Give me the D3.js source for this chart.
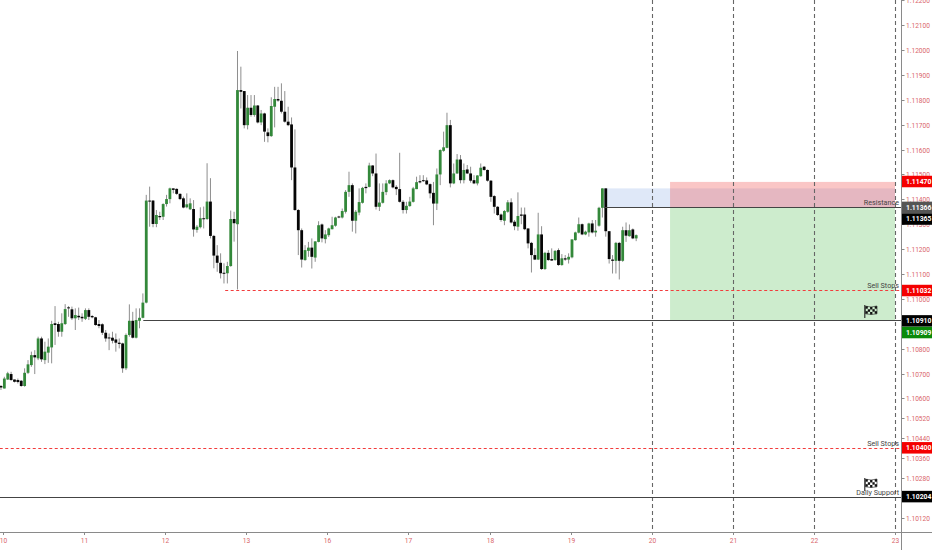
<!DOCTYPE html>
<html><head><meta charset="utf-8">
<script src="https://cdn.jsdelivr.net/npm/d3@7"></script>
<style>html,body{margin:0;padding:0;background:#fff;overflow:hidden}svg{display:block}text{font-family:Roboto,sans-serif}</style>
</head><body><svg id="c" width="932" height="550"></svg>
<script>
// Prices are in points (1e-5). One entry per hourly candle.
const bodyTops=[110650,110680,110701,110698,110676,110674,110671,110703,110737,110774,
110774,110841,110841,110788,110808,110899,110902,110899,110902,110959,
110966,110958,110935,110932,110928,110955,110955,110931,110926,110899,
110898,110864,110845,110844,110837,110824,110821,110855,110912,110912,
110915,110924,110985,111395,111395,111395,111337,111333,111381,111401,
111444,111444,111442,111422,111404,111380,111384,111361,111290,111324,
111324,111391,111391,111253,111174,111145,111105,111132,111321,111321,
111839,111839,111835,111768,111768,111777,111777,111745,111745,111669,
111775,111803,111803,111796,111752,111712,111701,111528,111357,111276,
111196,111206,111206,111231,111296,111299,111259,111283,111296,111327,
111331,111353,111430,111457,111457,111350,111389,111446,111450,111536,
111536,111504,111387,111430,111464,111477,111477,111450,111441,111390,
111374,111391,111444,111469,111473,111477,111476,111461,111426,111500,
111598,111609,111698,111698,111504,111560,111560,111518,111520,111504,
111477,111496,111527,111531,111518,111475,111413,111370,111339,111353,
111388,111388,111310,111333,111339,111339,111283,111225,111176,111259,
111259,111185,111185,111160,111193,111196,111163,111163,111169,111239,
111267,111300,111300,111270,111303,111303,111274,111366,111444,111444,
111272,111158,111225,111225,111276,111276,111276,111279,111256];
const bodyBottoms=[110644,110640,110676,110674,110667,110666,110650,110650,110703,110734,
110765,110761,110757,110754,110784,110805,110895,110868,110868,110899,
110962,110922,110922,110926,110922,110920,110928,110926,110895,110891,
110864,110841,110841,110832,110824,110819,110721,110721,110855,110844,
110844,110912,110924,110985,111391,111301,111301,111328,111330,111381,
111401,111438,111422,111401,111367,111368,111360,111279,111277,111288,
111321,111321,111253,111174,111145,111103,111101,111103,111132,111304,
111300,111832,111698,111698,111739,111739,111709,111709,111672,111654,
111654,111772,111797,111752,111712,111698,111528,111357,111276,111158,
111156,111193,111169,111166,111229,111243,111240,111256,111280,111294,
111327,111327,111350,111430,111314,111314,111347,111386,111445,111450,
111504,111370,111370,111386,111429,111464,111448,111441,111390,111357,
111357,111373,111390,111441,111468,111473,111460,111424,111383,111383,
111500,111595,111607,111464,111464,111504,111477,111477,111504,111475,
111464,111464,111493,111518,111475,111410,111370,111337,111317,111314,
111350,111307,111292,111290,111334,111280,111223,111176,111158,111158,
111120,111120,111156,111154,111156,111136,111136,111158,111158,111167,
111236,111266,111259,111259,111267,111267,111267,111294,111366,111272,
111160,111153,111153,111153,111153,111254,111252,111243,111243];
const highs=[110654,110687,110707,110707,110676,110680,110674,110721,110754,110788,
110794,110848,110848,110828,110841,110912,110971,110908,110942,110979,
110971,110969,110962,110965,110942,110962,110962,110935,110928,110915,
110902,110875,110861,110868,110861,110841,110824,110861,110978,110948,
110962,110962,111022,111418,111451,111397,111357,111350,111384,111418,
111447,111444,111444,111424,111411,111424,111404,111397,111297,111368,
111371,111545,111485,111257,111216,111183,111143,111149,111355,111350,
111996,111933,111835,111819,111819,111819,111779,111759,111748,111685,
111810,111852,111852,111866,111835,111772,111729,111681,111361,111283,
111216,111229,111243,111232,111312,111303,111276,111286,111330,111330,
111334,111363,111437,111511,111464,111357,111444,111450,111464,111547,
111537,111584,111464,111464,111477,111480,111480,111457,111587,111397,
111390,111410,111450,111491,111497,111497,111488,111464,111470,111524,
111601,111672,111748,111719,111544,111582,111578,111544,111538,111531,
111497,111497,111544,111534,111520,111477,111417,111373,111343,111357,
111397,111404,111317,111428,111367,111367,111283,111229,111203,111346,
111292,111189,111196,111203,111196,111203,111180,111176,111183,111239,
111270,111327,111303,111274,111306,111317,111317,111370,111444,111444,
111272,111176,111229,111229,111290,111307,111299,111283,111259];
const lows=[110634,110640,110674,110671,110664,110660,110647,110647,110698,110727,
110698,110754,110747,110738,110743,110741,110815,110848,110848,110895,
110928,110915,110875,110915,110908,110915,110915,110922,110892,110882,
110855,110828,110794,110821,110788,110801,110703,110714,110848,110841,
110841,110882,110922,110982,111290,111288,111288,111317,111317,111371,
111384,111424,111418,111397,111364,111364,111357,111250,111266,111283,
111283,111317,111243,111123,111109,111082,111062,111062,111129,111230,
111038,111765,111685,111681,111732,111732,111705,111698,111631,111629,
111651,111689,111792,111745,111708,111694,111477,111354,111176,111126,
111153,111169,111122,111149,111227,111227,111223,111249,111279,111290,
111324,111323,111343,111410,111270,111263,111336,111383,111424,111448,
111493,111359,111353,111383,111417,111461,111444,111417,111387,111343,
111343,111370,111387,111441,111464,111470,111457,111404,111296,111357,
111457,111591,111605,111448,111461,111502,111464,111464,111502,111467,
111461,111456,111491,111515,111471,111390,111343,111333,111310,111296,
111346,111303,111276,111274,111300,111276,111203,111106,111156,111156,
111116,111116,111153,111153,111153,111133,111133,111153,111142,111163,
111234,111263,111256,111256,111250,111263,111250,111290,111327,111250,
111142,111102,111102,111078,111149,111229,111250,111240,111232];
const directions="bggbbbbggg"+"bgbgggbbgg"+"bbgbbgbbbb"+"bbbbbbbggb"+"ggggbbgbgg"+"gbbbbggbgg"+"bgbbbbbggb"+
"gbbgbgbgbb"+"ggbbbbbbbb"+"ggbggbgggg"+"bgggbgggbg"+"bbggggbbbb"+"ggggbbbbbg"+"gggbggbgbb"+"bggbbbbbbg"+
"gbbgbbbbbg"+"bgbbgbgbgg"+"ggbggbgggb"+"bbgbgbgbg";

const dayLabels=["10","11","12","13","16","17","18","19","20","21","22","23"];
const dashedDays=["20","21","22","23"];
const priceTicks=[112200,112100,112000,111900,111800,111700,111600,111500,111400,111300,111200,111100,111000,110800,110700,110600,110520,110440,110360,110280,110120];
const priceTags=[[111470,"#f40000"],[111366,"#555555"],[111365,"#000000"],[111032,"#f40000"],[110910,"#000000"],[110909,"#0a8a0a"],[110400,"#f40000"],[110204,"#000000"]];
const levels=[[111366,7.41,false],[111032,2.74,true],[110914,1.73,false],[110398,-0.04,true],[110204,-0.04,false]];
const levelNotes=[[111366,"Resistance"],[111032,"Sell Stops"],[110400,"Sell Stops"],[110204,"Daily Support"]];
const flagPrices=[110923,110227];
const zones=[[111444,111366,7.41,"#dfe8f8"],[111366,110914,8.226,"#cdeccd"],[111470,111366,8.226,"rgba(242,92,92,0.35)"]];
const zoneEndDay=11;

const svg=d3.select("#c");
const axisX=901.5;
const y=d3.scaleLinear().domain([112000,110204]).range([50,497]);
const xDay=d3.scaleLinear().domain([0,11]).range([3,895]);
const xPoint=d3.scalePoint().domain(dayLabels).range([3,895]);
const xBar=i=>xDay(i/24-0.025);
const fmt=p=>(p/100000).toFixed(5);
const crisp=v=>Math.floor(v)+.5;

svg.append("g").selectAll("rect").data(zones).join("rect")
 .attr("x",d=>xDay(d[2])).attr("width",d=>xDay(zoneEndDay)-xDay(d[2]))
 .attr("y",d=>y(d[0])).attr("height",d=>y(d[1])-y(d[0]))
 .attr("fill",d=>d[3]);

svg.append("g").selectAll("line").data(dashedDays).join("line")
 .attr("x1",d=>Math.round(xPoint(d))+.5).attr("x2",d=>Math.round(xPoint(d))+.5)
 .attr("y1",0).attr("y2",532).attr("stroke","#666").attr("stroke-width",1.1).attr("stroke-dasharray","4,3");

const idx=d3.range(bodyTops.length);
svg.append("g").selectAll("line").data(idx).join("line")
 .attr("x1",xBar).attr("x2",xBar).attr("y1",i=>y(highs[i])).attr("y2",i=>y(lows[i]))
 .attr("stroke","#8e8e8e").attr("stroke-width",1);
svg.append("g").selectAll("rect").data(idx).join("rect")
 .attr("x",i=>xBar(i)-1.4).attr("width",2.8)
 .attr("y",i=>y(bodyTops[i])).attr("height",i=>Math.max(1,y(bodyBottoms[i])-y(bodyTops[i])))
 .attr("fill",i=>directions[i]==="g"?"#33883a":"#050505");

svg.append("g").selectAll("line").data(levels).join("line")
 .attr("x1",d=>xDay(d[1])).attr("x2",axisX)
 .attr("y1",d=>crisp(y(d[0]))).attr("y2",d=>crisp(y(d[0])))
 .attr("stroke",d=>d[2]?"#f23c3c":"#444").attr("stroke-dasharray",d=>d[2]?"3,2.5":null);
svg.append("g").selectAll("text").data(levelNotes).join("text")
 .attr("x",899).attr("y",d=>y(d[0])-2.5).attr("text-anchor","end")
 .attr("font-size",7.2).attr("fill","#444").text(d=>d[1]);

const flag=svg.append("g").selectAll("g").data(flagPrices).join("g")
 .attr("transform",d=>`translate(864,${Math.round(y(d))-13})`);
flag.append("line").attr("x1",.8).attr("x2",.8).attr("y1",0).attr("y2",13).attr("stroke","#222").attr("stroke-width",1.1);
flag.each(function(){
 const g=d3.select(this);
 d3.range(5).forEach(c=>d3.range(3).forEach(r=>{
  if((c+r)%2===0) g.append("rect").attr("x",1.5+c*2.3).attr("y",1.2+r*2.5+[0,.6,.8,.5,0][c]).attr("width",2.3).attr("height",2.5).attr("fill","#111");
 }));
 g.append("path").attr("d","M1.5,1.2Q7,2.8 13,1V8.8Q7,10.2 1.5,8.8Z").attr("fill","none").attr("stroke","#222").attr("stroke-width",.6);
});

svg.append("rect").attr("x",axisX).attr("y",0).attr("width",31).attr("height",550).attr("fill","#fff");
svg.append("line").attr("x1",axisX).attr("x2",axisX).attr("y1",0).attr("y2",550).attr("stroke","#8a8a8a");
svg.append("line").attr("x1",0).attr("x2",932).attr("y1",532.5).attr("y2",532.5).attr("stroke","#8a8a8a");
const yT=svg.append("g").selectAll("g").data(priceTicks).join("g")
 .attr("transform",d=>`translate(${axisX},${Math.round(y(d))+.5})`);
yT.append("line").attr("x2",3).attr("stroke","#8a8a8a");
yT.append("text").attr("x",4.5).attr("y",2.4).attr("font-size",6.6).attr("fill","#d9656a").text(fmt);
const xT=svg.append("g").selectAll("g").data(dayLabels).join("g")
 .attr("transform",d=>`translate(${Math.round(xPoint(d))+.5},532)`);
xT.append("line").attr("y2",3).attr("stroke","#8a8a8a");
xT.append("text").attr("y",11).attr("text-anchor","middle").attr("font-size",6.6).attr("fill","#d9656a").text(d=>d);

const tag=svg.append("g").selectAll("g").data(priceTags).join("g");
const tagY=(d,i)=>(i===2||i===5)?y(d[0])+11:y(d[0])-.4;
tag.append("rect").attr("x",axisX+.5).attr("width",30).attr("height",11.5)
 .attr("y",(d,i)=>tagY(d,i)-5.75).attr("fill",d=>d[1]);
tag.append("text").attr("x",906).attr("y",(d,i)=>tagY(d,i)+2.4).attr("font-size",6.8).attr("font-weight",700)
 .attr("fill","#fff").text(d=>fmt(d[0]));
</script></body></html>
